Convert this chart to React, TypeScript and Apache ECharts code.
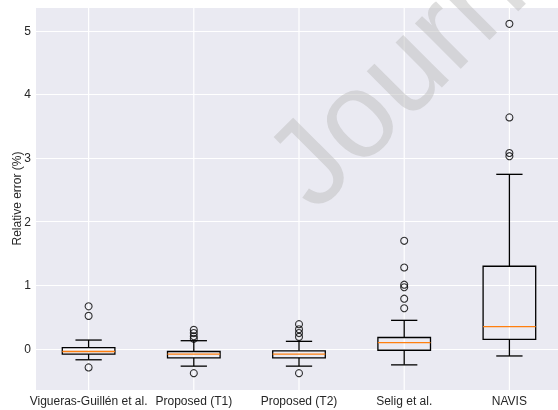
import React, { useEffect, useRef } from "react";
import * as echarts from "echarts";

const categories = ["Vigueras-Guillén et al.", "Proposed (T1)", "Proposed (T2)", "Selig et al.", "NAVIS"];
const lowerWhisker = [-0.17, -0.27, -0.27, -0.25, -0.11];
const q1 = [-0.08, -0.14, -0.14, -0.02, 0.15];
const median = [-0.04, -0.08, -0.08, 0.1, 0.35];
const q3 = [0.02, -0.04, -0.03, 0.18, 1.3];
const upperWhisker = [0.14, 0.13, 0.12, 0.45, 2.745];
const outliers: number[][] = [
  [-0.29, 0.52, 0.67],
  [-0.38, 0.16, 0.2, 0.25, 0.3],
  [-0.38, 0.19, 0.25, 0.31, 0.39],
  [0.64, 0.79, 0.97, 1.01, 1.28, 1.7],
  [3.03, 3.08, 3.64, 5.11],
];
const yMin = -0.645;
const yMax = 5.375;
const yLabel = "Relative error (%)";
const watermark = "Journal Pre-proof";

const FONT = "'Liberation Sans', Arial, sans-serif";
const TEXT = "#262626";

export default function App() {
  const ref = useRef<HTMLDivElement>(null);
  useEffect(() => {
    if (!ref.current) return;
    const chart = echarts.init(ref.current, null, { renderer: "svg" });
    const boxData = categories.map((_, i) => [i, lowerWhisker[i], q1[i], median[i], q3[i], upperWhisker[i]]);
    const outlierData: number[][] = [];
    outliers.forEach((arr, i) => arr.forEach((v) => outlierData.push([i, v])));

    const fs = 122;
    chart.setOption({
      animation: false,
      grid: {
        left: 36,
        top: 7,
        width: 526,
        height: 383,
        show: true,
        backgroundColor: "#EAEAF2",
        borderWidth: 0,
        containLabel: false,
        outerBoundsMode: "none",
      },
      xAxis: {
        type: "category",
        data: categories,
        boundaryGap: true,
        axisLine: { show: false },
        axisTick: { show: false },
        splitLine: { show: false },
        axisLabel: { color: TEXT, fontSize: 12, fontFamily: FONT, margin: 5, interval: 0 },
      },
      yAxis: {
        type: "value",
        min: yMin,
        max: yMax,
        splitNumber: 6,
        name: yLabel,
        nameLocation: "middle",
        nameGap: 13,
        nameMoveOverlap: false,
        nameTextStyle: { color: TEXT, fontSize: 12, fontFamily: FONT },
        axisLine: { show: false },
        axisTick: { show: false },
        axisLabel: { color: TEXT, fontSize: 12, fontFamily: FONT, margin: 5, showMinLabel: false, showMaxLabel: false },
        splitLine: { show: true, lineStyle: { color: "#ffffff", width: 1.2 } },
      },
      graphic: [
        {
          type: "text",
          x: 286,
          y: 184,
          rotation: Math.PI / 4,
          z: 100,
          silent: true,
          style: {
            text: watermark,
            font: `${fs}px ${FONT}`,
            fill: "rgba(190,190,190,0.5)",
            textAlign: "left",
            textVerticalAlign: "middle",
          },
        },
      ],
      series: [
        {
          type: "custom",
          z: 0,
          data: boxData,
          renderItem: (params: any, api: any) => {
            const cs = params.coordSys;
            const x = api.coord([api.value(0), 0])[0];
            return {
              type: "line",
              shape: { x1: x, y1: cs.y, x2: x, y2: cs.y + cs.height },
              style: { stroke: "#ffffff", lineWidth: 1.2 },
            };
          },
        },
        {
          type: "custom",
          z: 5,
          data: boxData,
          renderItem: (params: any, api: any) => {
            const i = api.value(0);
            const x = api.coord([i, 0])[0];
            const band = api.size([1, 0])[0];
            const bw = band * 0.5;
            const cw = band * 0.25;
            const yLw = api.coord([i, api.value(1)])[1];
            const yQ1 = api.coord([i, api.value(2)])[1];
            const yMed = api.coord([i, api.value(3)])[1];
            const yQ3 = api.coord([i, api.value(4)])[1];
            const yUw = api.coord([i, api.value(5)])[1];
            const black = { stroke: "#000000", lineWidth: 1.3, fill: "none" };
            return {
              type: "group",
              children: [
                { type: "line", shape: { x1: x, y1: yQ1, x2: x, y2: yLw }, style: black },
                { type: "line", shape: { x1: x, y1: yQ3, x2: x, y2: yUw }, style: black },
                { type: "line", shape: { x1: x - cw / 2, y1: yLw, x2: x + cw / 2, y2: yLw }, style: black },
                { type: "line", shape: { x1: x - cw / 2, y1: yUw, x2: x + cw / 2, y2: yUw }, style: black },
                { type: "rect", shape: { x: x - bw / 2, y: yQ3, width: bw, height: yQ1 - yQ3 }, style: black },
                {
                  type: "line",
                  shape: { x1: x - bw / 2, y1: yMed, x2: x + bw / 2, y2: yMed },
                  style: { stroke: "#FF7F0E", lineWidth: 1.3 },
                },
              ],
            };
          },
        },
        {
          type: "scatter",
          z: 6,
          data: outlierData,
          symbol: "circle",
          symbolSize: 7,
          itemStyle: { color: "rgba(0,0,0,0)", borderColor: "#000000", borderWidth: 1.1 },
        },
      ],
    });
    return () => chart.dispose();
  }, []);
  return <div ref={ref} style={{ position: "fixed", left: 0, top: 0, width: 558, height: 410 }} />;
}
